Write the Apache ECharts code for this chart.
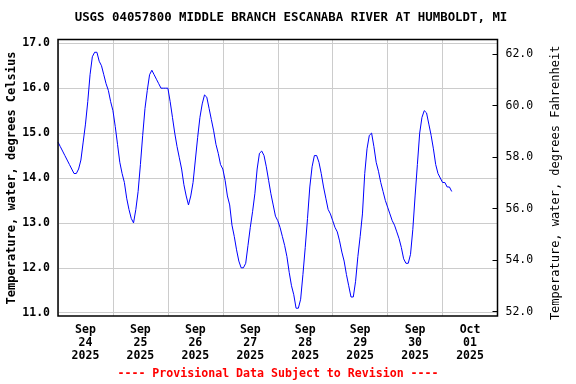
<!DOCTYPE html>
<html><head><meta charset="utf-8">
<script src="https://cdn.jsdelivr.net/npm/echarts@6/dist/echarts.min.js"></script>
<style>html,body{margin:0;padding:0;background:#fff}#c{width:576px;height:384px}</style>
</head><body><div id="c"></div>
<script>
const titleText = 'USGS 04057800 MIDDLE BRANCH ESCANABA RIVER AT HUMBOLDT, MI';
const footerText = '---- Provisional Data Subject to Revision ----';
const leftAxisName = 'Temperature, water, degrees Celsius';
const rightAxisName = 'Temperature, water, degrees Fahrenheit';
const dayLabels = ['Sep\n24\n2025','Sep\n25\n2025','Sep\n26\n2025','Sep\n27\n2025','Sep\n28\n2025','Sep\n29\n2025','Sep\n30\n2025','Oct\n01\n2025'];
// hourly water temperature (deg C), starting Sep 24 2025 00:00
const tempC = [
14.8,14.7,14.6,14.5,14.4,14.3,14.2,14.1,14.1,14.2,14.4,14.8,15.2,15.7,16.3,16.7,16.8,16.8,16.6,16.5,16.3,16.1,15.95,15.7,
15.5,15.15,14.75,14.35,14.1,13.9,13.55,13.3,13.1,13.0,13.3,13.7,14.3,14.95,15.55,15.95,16.3,16.4,16.3,16.2,16.1,16.0,16.0,16.0,
16.0,15.7,15.35,15.0,14.7,14.45,14.2,13.85,13.6,13.4,13.6,13.9,14.4,14.9,15.35,15.65,15.85,15.8,15.55,15.3,15.05,14.75,14.55,14.3,
14.2,13.95,13.6,13.4,12.95,12.7,12.4,12.15,12.0,12.0,12.1,12.5,12.9,13.25,13.65,14.2,14.55,14.6,14.5,14.25,13.95,13.65,13.4,13.15,
13.05,12.9,12.7,12.5,12.25,11.9,11.6,11.4,11.1,11.1,11.3,11.85,12.45,13.1,13.8,14.25,14.5,14.5,14.35,14.1,13.8,13.55,13.3,13.2,
13.05,12.9,12.8,12.6,12.35,12.15,11.85,11.6,11.35,11.35,11.7,12.25,12.7,13.2,14.1,14.65,14.95,15.0,14.7,14.35,14.15,13.9,13.7,13.5,
13.35,13.2,13.05,12.95,12.8,12.65,12.45,12.2,12.1,12.1,12.3,12.85,13.6,14.3,15.0,15.35,15.5,15.45,15.2,14.95,14.65,14.3,14.1,14.0,
13.9,13.9,13.8,13.8,13.7
];
const totalHours = 192;

const MONO = 'DejaVu Sans Mono';
const chart = echarts.init(document.getElementById('c'), null, {renderer:'canvas'});
const gridBase = {left:58, width:439.5, containLabel:false, outerBoundsMode:'none'};
chart.setOption({
  animation:false,
  backgroundColor:'#fff',
  title:[
    {text:titleText, left:291, textAlign:'center', top:12, padding:0,
     textStyle:{fontFamily:MONO, fontWeight:'bold', fontSize:12.4, color:'#000'}},
    {text:footerText, left:278, textAlign:'center', top:368, padding:0,
     textStyle:{fontFamily:MONO, fontWeight:'bold', fontSize:11.6, color:'#ff0000'}}
  ],
  grid:[
    Object.assign({}, gridBase, {top:39.5, height:276.5, show:true, borderColor:'#000', borderWidth:1.5, backgroundColor:'transparent', z:5}),
    Object.assign({}, gridBase, {top:43.3, height:269.4}),
    Object.assign({}, gridBase, {top:54, height:257.7})
  ],
  xAxis:[
    {gridIndex:0, type:'category', data:dayLabels, boundaryGap:true,
     axisLine:{show:false, onZero:false}, axisTick:{show:false},
     splitLine:{show:true, lineStyle:{color:'#cccccc', width:1}},
     axisLabel:{margin:8, fontFamily:MONO, fontWeight:'bold', fontSize:11.5, lineHeight:13, color:'#000'}},
    {gridIndex:1, type:'value', min:0, max:totalHours, show:false},
    {gridIndex:2, type:'value', min:0, max:totalHours, show:false}
  ],
  yAxis:[
    {gridIndex:0, type:'value', min:0, max:1, show:false},
    {gridIndex:1, type:'value', min:11, max:17, interval:1,
     axisLine:{show:false, onZero:false}, axisTick:{show:false},
     splitLine:{show:true, lineStyle:{color:'#cccccc', width:1}},
     axisLabel:{formatter:v=>v.toFixed(1), margin:8, fontFamily:MONO, fontWeight:'bold', fontSize:11.5, color:'#000'},
     name:leftAxisName, nameLocation:'middle', nameGap:40, nameRotate:90, nameMoveOverlap:false,
     nameTextStyle:{fontFamily:MONO, fontWeight:'bold', fontSize:12, color:'#000'}},
    {gridIndex:2, type:'value', position:'right', min:52, max:62, interval:2,
     axisLine:{show:false, onZero:false},
     axisTick:{show:true, inside:true, length:5, lineStyle:{color:'#000', width:1}},
     splitLine:{show:false},
     axisLabel:{formatter:v=>v.toFixed(1), margin:8, fontFamily:MONO, fontSize:11.5, color:'#000'},
     name:rightAxisName, nameLocation:'middle', nameGap:52, nameRotate:90, nameMoveOverlap:false,
     nameTextStyle:{fontFamily:MONO, fontSize:12, color:'#000'}}
  ],
  series:[{
    type:'line', xAxisIndex:1, yAxisIndex:1,
    data:tempC.map((v,i)=>[i,v]),
    showSymbol:false, symbol:'none',
    lineStyle:{color:'#0000ff', width:1},
    z:3
  }]
});
</script></body></html>
